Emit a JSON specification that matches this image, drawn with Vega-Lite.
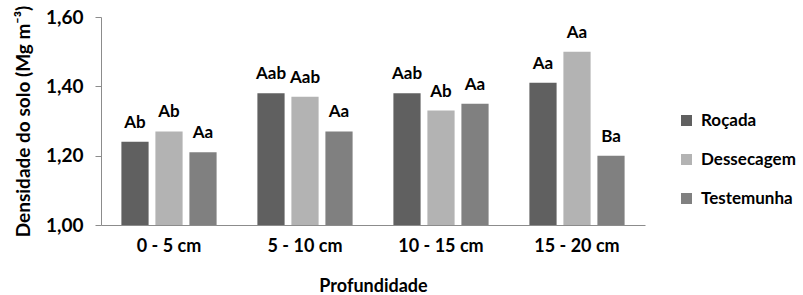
{
  "$schema": "https://vega.github.io/schema/vega-lite/v6.json",
  "width": 544,
  "height": 208,
  "autosize": {"type": "none"},
  "padding": {"left": 101, "top": 17, "right": 158, "bottom": 70},
  "background": "white",
  "config": {
    "view": {"stroke": null},
    "font": "Lato",
    "axis": {"labelFont": "Lato", "titleFont": "Lato", "labelFontWeight": "bold", "titleFontWeight": "bold", "labelColor": "#000", "titleColor": "#000", "grid": false},
    "legend": {"labelFont": "Lato", "labelFontWeight": "bold", "labelColor": "#000"}
  },
  "data": {
    "values": [
      {"prof": "0 - 5 cm", "trat": "Roçada", "dens": 1.24, "letra": "Ab"},
      {"prof": "0 - 5 cm", "trat": "Dessecagem", "dens": 1.27, "letra": "Ab"},
      {"prof": "0 - 5 cm", "trat": "Testemunha", "dens": 1.21, "letra": "Aa"},
      {"prof": "5 - 10 cm", "trat": "Roçada", "dens": 1.38, "letra": "Aab"},
      {"prof": "5 - 10 cm", "trat": "Dessecagem", "dens": 1.37, "letra": "Aab"},
      {"prof": "5 - 10 cm", "trat": "Testemunha", "dens": 1.27, "letra": "Aa"},
      {"prof": "10 - 15 cm", "trat": "Roçada", "dens": 1.38, "letra": "Aab"},
      {"prof": "10 - 15 cm", "trat": "Dessecagem", "dens": 1.33, "letra": "Ab"},
      {"prof": "10 - 15 cm", "trat": "Testemunha", "dens": 1.35, "letra": "Aa"},
      {"prof": "15 - 20 cm", "trat": "Roçada", "dens": 1.41, "letra": "Aa"},
      {"prof": "15 - 20 cm", "trat": "Dessecagem", "dens": 1.50, "letra": "Aa"},
      {"prof": "15 - 20 cm", "trat": "Testemunha", "dens": 1.20, "letra": "Ba"}
    ]
  },
  "encoding": {
    "x": {
      "field": "prof", "type": "nominal", "sort": null,
      "scale": {"paddingInner": 0.25, "paddingOuter": 0.125},
      "axis": {"title": "Profundidade", "labelAngle": 0, "ticks": false, "labelFontSize": 18, "titleFontSize": 18, "labelPadding": 12, "titlePadding": 22, "domainColor": "#8c8c8c", "zindex": 1}
    },
    "xOffset": {
      "field": "trat", "type": "nominal", "sort": ["Roçada", "Dessecagem", "Testemunha"],
      "scale": {"paddingInner": 0.2, "paddingOuter": 0.1}
    },
    "y": {
      "field": "dens", "type": "quantitative",
      "scale": {"domain": [1, 1.6], "nice": false, "zero": false},
      "axis": {"title": "Densidade do solo (Mg m⁻³)", "values": [1, 1.2, 1.4, 1.6], "labelExpr": "replace(format(datum.value, '.2f'), '.', ',')", "labelFontSize": 19, "titleFontSize": 19, "tickSize": 6, "labelPadding": 12, "titlePadding": 12, "domainColor": "#8c8c8c", "tickColor": "#8c8c8c"}
    }
  },
  "layer": [
    {
      "mark": {"type": "bar"},
      "encoding": {
        "y2": {"datum": 1},
        "color": {
          "field": "trat", "type": "nominal", "sort": ["Roçada", "Dessecagem", "Testemunha"],
          "scale": {"domain": ["Roçada", "Dessecagem", "Testemunha"], "range": ["#606060", "#b3b3b3", "#808080"]},
          "legend": {"title": null, "orient": "none", "legendX": 577, "legendY": 95, "symbolType": "square", "symbolSize": 121, "symbolStrokeWidth": 0, "labelFontSize": 17, "rowPadding": 21, "padding": 0, "labelOffset": 6}
        }
      }
    },
    {
      "mark": {"type": "text", "baseline": "alphabetic", "dy": -14, "fontSize": 17, "fontWeight": "bold", "font": "Lato", "color": "#000"},
      "encoding": {"text": {"field": "letra"}}
    }
  ]
}
